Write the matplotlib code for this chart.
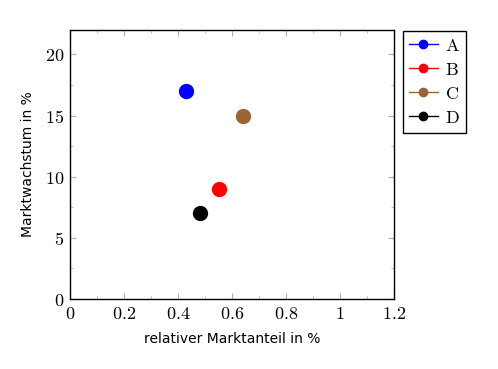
import matplotlib
matplotlib.use('Agg')
import matplotlib.pyplot as plt
from matplotlib.ticker import FuncFormatter, MultipleLocator

plt.rcParams['mathtext.fontset'] = 'cm'

# data
names = ['A', 'B', 'C', 'D']
anteil = [0.43, 0.55, 0.64, 0.48]
wachstum = [17, 9, 15, 7]
colors = ['#0000ff', '#ff0000', '#996633', '#000000']

fig = plt.figure(figsize=(4.98, 3.69), dpi=100)
ax = fig.add_axes([0.1406, 0.1897, 0.6506, 0.729])

for n, x, y, c in zip(names, anteil, wachstum, colors):
    ax.plot([x], [y], marker='o', markersize=10, color=c, linestyle='-',
            linewidth=1.0, label=n)

ax.set_xlim(0, 1.2)
ax.set_ylim(0, 22)
ax.xaxis.set_major_locator(MultipleLocator(0.2))
ax.xaxis.set_minor_locator(MultipleLocator(0.1))
ax.yaxis.set_major_locator(MultipleLocator(5))
ax.yaxis.set_minor_locator(MultipleLocator(2.5))

def fmt(v, pos):
    s = ('%.1f' % v).rstrip('0').rstrip('.')
    return '$%s$' % s

ax.xaxis.set_major_formatter(FuncFormatter(fmt))
ax.yaxis.set_major_formatter(FuncFormatter(fmt))
ax.tick_params(which='both', direction='in', top=True, right=True, color='#b0b0b0')
ax.tick_params(which='major', length=4, labelsize=13, pad=4)
ax.tick_params(which='minor', length=2.5)
for s in ax.spines.values():
    s.set_linewidth(1.0)

ax.set_xlabel('relativer Marktanteil in %', fontsize=10, labelpad=7)
ax.set_ylabel('Marktwachstum in %', fontsize=10, labelpad=7)

leg = ax.legend(loc='upper left', bbox_to_anchor=(1.028, 0.997), borderaxespad=0,
                fancybox=False, edgecolor='black', framealpha=1, handlelength=1.6,
                handletextpad=0.4, borderpad=0.33, labelspacing=0.33,
                markerscale=0.6, prop={'family': 'serif', 'size': 13})
for t in leg.get_texts():
    t.set_text('$\\mathrm{%s}$' % t.get_text())
leg.get_frame().set_linewidth(1.0)

fig.savefig('out.png', dpi=100)
